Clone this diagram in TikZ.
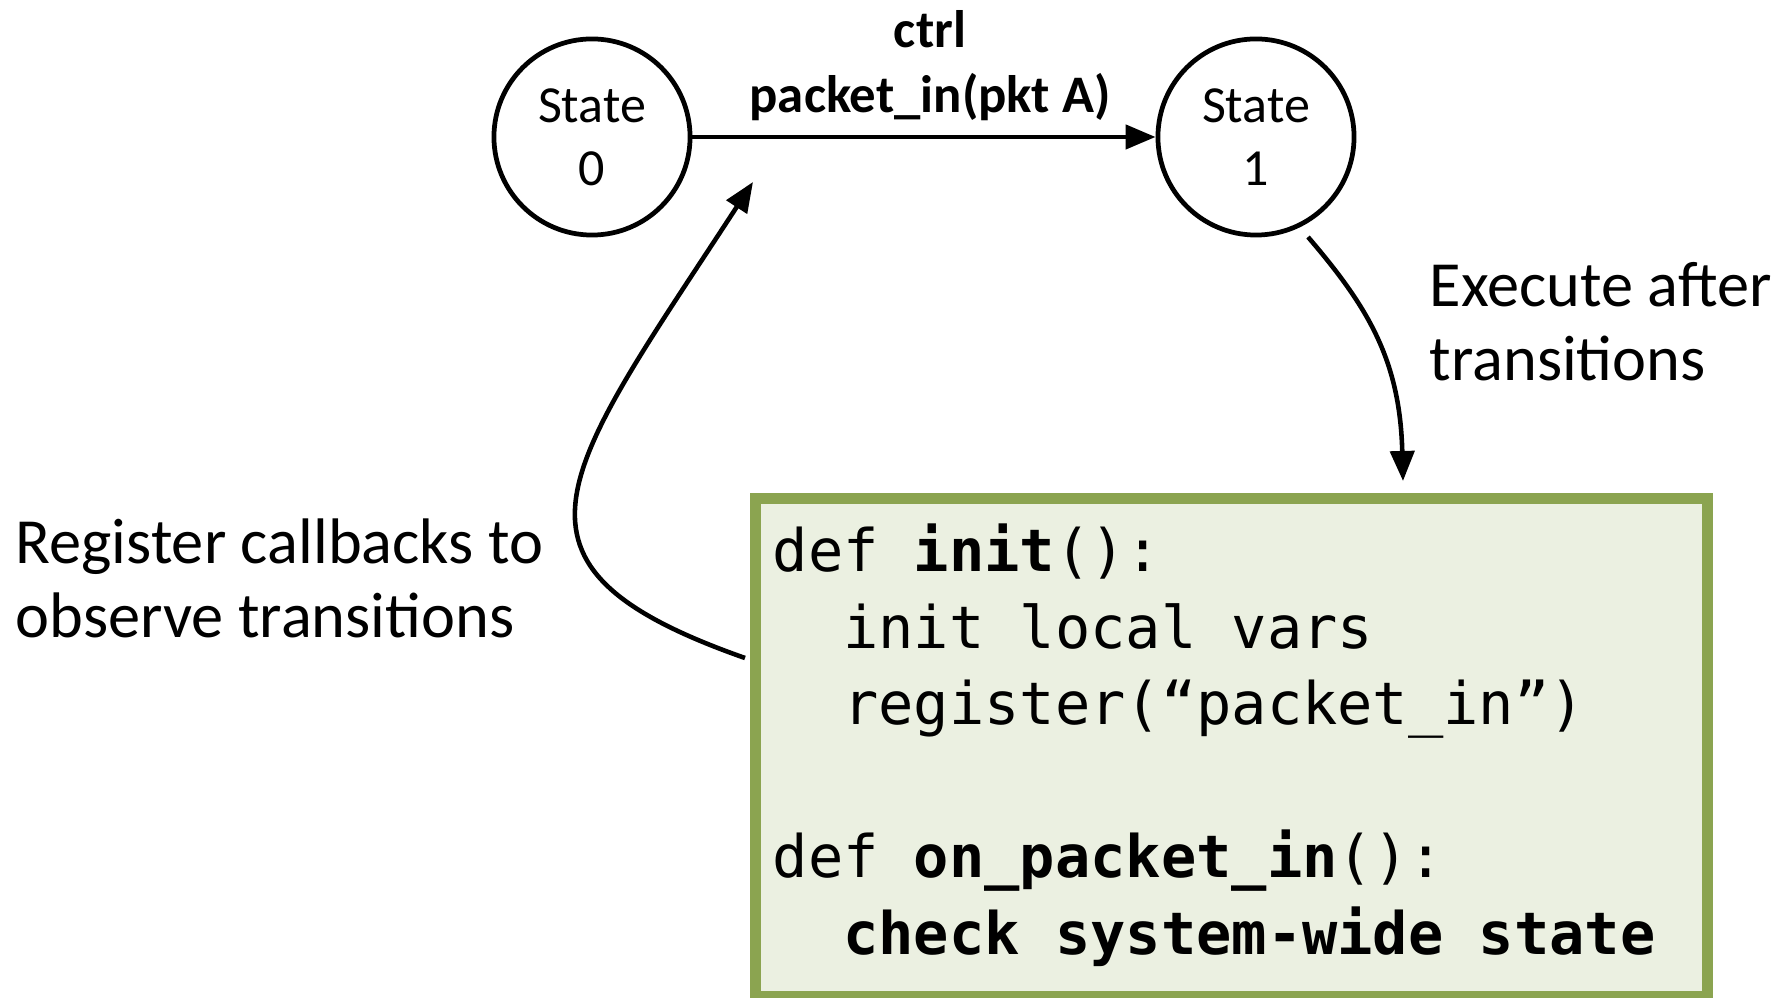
\documentclass[tikz,border=0pt]{standalone}
\usepackage{fontspec}
\setmainfont{Carlito}
\setmonofont{DejaVu Sans Mono}
\usetikzlibrary{arrows.meta}
\definecolor{boxgreen}{HTML}{8BA450}
\definecolor{boxfill}{HTML}{EBF0E1}

\begin{document}
\begin{tikzpicture}[x=0.01cm, y=-0.01cm,
  state/.style={circle, draw, line width=1.35pt, minimum size=1.96cm, inner sep=0pt,
    align=center, font=\fontsize{14.8}{18}\selectfont},
  arr/.style={line width=1.3pt, -{Triangle[length=0.3cm,width=0.24cm]}},
  bigtext/.style={anchor=west, inner sep=0pt, align=left, font=\fontsize{18.3}{21}\selectfont},
  codebox/.style={draw=boxgreen, fill=boxfill, line width=3.1pt, inner sep=0pt,
    minimum width=9.515cm, minimum height=4.98cm},
  codeline/.style={anchor=base west, inner sep=0pt, font=\ttfamily\fontsize{16.68}{20}\selectfont}]

\useasboundingbox (0,0) rectangle (1784,998);

% the two states and the transition between them
\node[state] (s0) at (592,137) {State\\0};
\node[state] (s1) at (1256,137) {State\\1};
\draw[arr] (s0) -- (s1);
\node[align=center, inner sep=0pt, font=\bfseries\fontsize{15}{18.5}\selectfont]
  (lbl) at (930,66) {ctrl\\packet\_in(pkt A)};

% the callback code
\node[codebox] (code) at (1231.75,747.5) {};
\node[codeline] (c1) at (772,572)     {def \textbf{init}():};
\node[codeline] (c2) at (842.6,648.5) {init local vars};
\node[codeline] (c3) at (842.6,725)   {register(“packet\_in”)};
\node[codeline] (c5) at (772,878)     {def \textbf{on\_packet\_in}():};
\node[codeline] (c6) at (842.6,954.5) {\textbf{check system-wide state}};

% callbacks run after the transition
\coordinate (ex0) at (1308,237);
\coordinate (ex1) at (1403,481);
\draw[arr] (ex0) .. controls (1368,307) and (1400,360) .. (ex1);
\node[bigtext] (exe) at (1429,322) {Execute after\\transitions};

% callbacks registered to watch the transition
\coordinate (rg0) at (745,658);
\coordinate (rg1) at (753,182);
\draw[arr] (rg0) .. controls (480,565) and (562,475) .. (rg1);
\node[bigtext] (reg) at (15,578) {Register callbacks to\\observe transitions};
\end{tikzpicture}
\end{document}
